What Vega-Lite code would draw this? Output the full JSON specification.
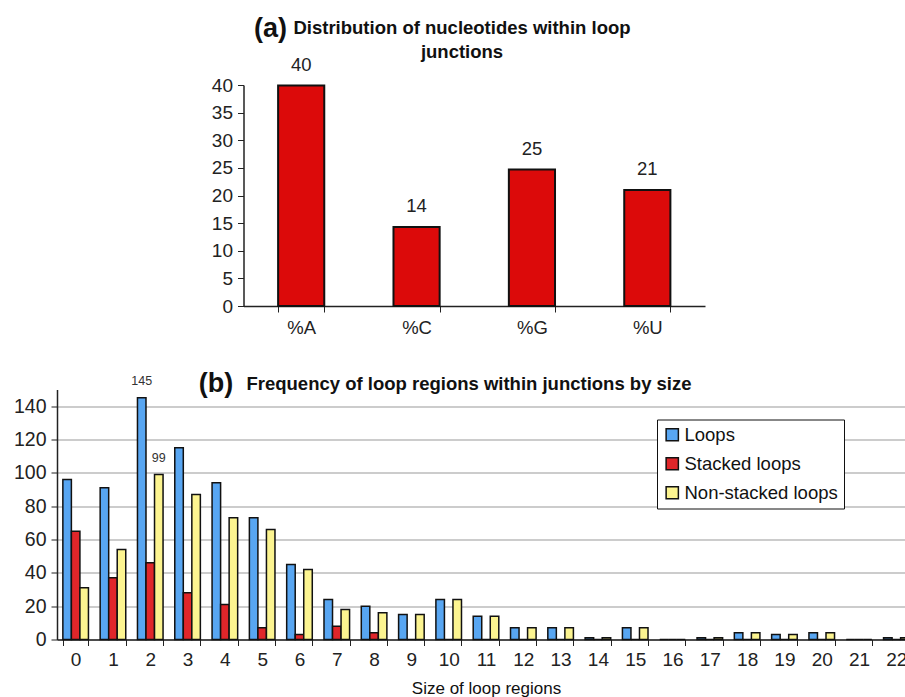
{
  "$schema": "https://vega.github.io/schema/vega-lite/v6.json",
  "background": "white",
  "padding": {"left": 13, "top": 14, "right": 0, "bottom": 0},
  "spacing": 31.5,
  "resolve": {"legend": {"color": "independent"}},
  "config": {
    "font": "Liberation Sans",
    "view": {"stroke": null},
    "axis": {"labelColor": "#222", "titleColor": "#111", "domainColor": "#222", "tickColor": "#222", "labelFont": "Liberation Sans", "titleFont": "Liberation Sans", "labelOverlap": false},
    "title": {"font": "Liberation Sans", "color": "#111"}
  },
  "vconcat": [
    {
      "width": 648,
      "height": 221,
      "title": {"text": ["Distribution of nucleotides within loop", "junctions"], "anchor": "start", "align": "center", "frame": "group", "dx": 405, "fontSize": 18.5, "fontWeight": "bold", "lineHeight": 24, "offset": -47},
      "data": {"values": [
        {"nucleotide": "%A", "percent": 39.9},
        {"nucleotide": "%C", "percent": 14.3},
        {"nucleotide": "%G", "percent": 24.7},
        {"nucleotide": "%U", "percent": 21.0}
      ]},
      "encoding": {
        "x": {"field": "nucleotide", "type": "nominal", "sort": null,
          "scale": {"range": [186.5, 648], "paddingInner": 0.6, "paddingOuter": 0.3},
          "axis": {"title": null, "labelAngle": 0, "tickBand": "extent", "tickSize": 6, "labelFontSize": 18.5, "labelPadding": 6, "grid": false, "domainWidth": 1.5}},
        "y": {"field": "percent", "type": "quantitative", "scale": {"domain": [0, 40], "nice": false, "zero": true},
          "axis": {"title": "(a)", "titleAngle": 0, "titleX": 26.5, "titleY": -57, "titleAlign": "center", "titleBaseline": "middle", "titleFontSize": 27, "titleFontWeight": "bold",
            "offset": -186.5, "values": [0, 5, 10, 15, 20, 25, 30, 35, 40], "tickCount": 9, "labelOverlap": false, "grid": false, "labelFontSize": 19, "tickSize": 6, "labelPadding": 5, "domainWidth": 1.5}}
      },
      "layer": [
        {
          "mark": {"type": "bar", "fill": "#dc0a0a", "stroke": "#111", "strokeWidth": 2}
        },
        {
          "mark": {"type": "text", "baseline": "alphabetic", "dy": -15, "fontSize": 18.5, "color": "#222"},
          "encoding": {
            "text": {"field": "percent", "type": "quantitative", "format": ".0f"}
          }
        }
      ]
    },
    {
      "width": 848,
      "height": 250,
      "title": {"text": "Frequency of loop regions within junctions by size", "anchor": "start", "align": "center", "frame": "group", "dx": 412, "fontSize": 18.5, "fontWeight": "bold", "offset": -24},
      "data": {"values": [
        {"size": 0, "series": "Loops", "count": 96}, {"size": 0, "series": "Stacked loops", "count": 65}, {"size": 0, "series": "Non-stacked loops", "count": 31},
        {"size": 1, "series": "Loops", "count": 91}, {"size": 1, "series": "Stacked loops", "count": 37}, {"size": 1, "series": "Non-stacked loops", "count": 54},
        {"size": 2, "series": "Loops", "count": 145}, {"size": 2, "series": "Stacked loops", "count": 46}, {"size": 2, "series": "Non-stacked loops", "count": 99},
        {"size": 3, "series": "Loops", "count": 115}, {"size": 3, "series": "Stacked loops", "count": 28}, {"size": 3, "series": "Non-stacked loops", "count": 87},
        {"size": 4, "series": "Loops", "count": 94}, {"size": 4, "series": "Stacked loops", "count": 21}, {"size": 4, "series": "Non-stacked loops", "count": 73},
        {"size": 5, "series": "Loops", "count": 73}, {"size": 5, "series": "Stacked loops", "count": 7}, {"size": 5, "series": "Non-stacked loops", "count": 66},
        {"size": 6, "series": "Loops", "count": 45}, {"size": 6, "series": "Stacked loops", "count": 3}, {"size": 6, "series": "Non-stacked loops", "count": 42},
        {"size": 7, "series": "Loops", "count": 24}, {"size": 7, "series": "Stacked loops", "count": 8}, {"size": 7, "series": "Non-stacked loops", "count": 18},
        {"size": 8, "series": "Loops", "count": 20}, {"size": 8, "series": "Stacked loops", "count": 4}, {"size": 8, "series": "Non-stacked loops", "count": 16},
        {"size": 9, "series": "Loops", "count": 15}, {"size": 9, "series": "Stacked loops", "count": 0}, {"size": 9, "series": "Non-stacked loops", "count": 15},
        {"size": 10, "series": "Loops", "count": 24}, {"size": 10, "series": "Stacked loops", "count": 0}, {"size": 10, "series": "Non-stacked loops", "count": 24},
        {"size": 11, "series": "Loops", "count": 14}, {"size": 11, "series": "Stacked loops", "count": 0}, {"size": 11, "series": "Non-stacked loops", "count": 14},
        {"size": 12, "series": "Loops", "count": 7}, {"size": 12, "series": "Stacked loops", "count": 0}, {"size": 12, "series": "Non-stacked loops", "count": 7},
        {"size": 13, "series": "Loops", "count": 7}, {"size": 13, "series": "Stacked loops", "count": 0}, {"size": 13, "series": "Non-stacked loops", "count": 7},
        {"size": 14, "series": "Loops", "count": 1}, {"size": 14, "series": "Stacked loops", "count": 0}, {"size": 14, "series": "Non-stacked loops", "count": 1},
        {"size": 15, "series": "Loops", "count": 7}, {"size": 15, "series": "Stacked loops", "count": 0}, {"size": 15, "series": "Non-stacked loops", "count": 7},
        {"size": 16, "series": "Loops", "count": 0}, {"size": 16, "series": "Stacked loops", "count": 0}, {"size": 16, "series": "Non-stacked loops", "count": 0},
        {"size": 17, "series": "Loops", "count": 1}, {"size": 17, "series": "Stacked loops", "count": 0}, {"size": 17, "series": "Non-stacked loops", "count": 1},
        {"size": 18, "series": "Loops", "count": 4}, {"size": 18, "series": "Stacked loops", "count": 0}, {"size": 18, "series": "Non-stacked loops", "count": 4},
        {"size": 19, "series": "Loops", "count": 3}, {"size": 19, "series": "Stacked loops", "count": 0}, {"size": 19, "series": "Non-stacked loops", "count": 3},
        {"size": 20, "series": "Loops", "count": 4}, {"size": 20, "series": "Stacked loops", "count": 0}, {"size": 20, "series": "Non-stacked loops", "count": 4},
        {"size": 21, "series": "Loops", "count": 0}, {"size": 21, "series": "Stacked loops", "count": 0}, {"size": 21, "series": "Non-stacked loops", "count": 0},
        {"size": 22, "series": "Loops", "count": 1}, {"size": 22, "series": "Stacked loops", "count": 0}, {"size": 22, "series": "Non-stacked loops", "count": 1}
      ]},
      "encoding": {
        "x": {"field": "size", "type": "ordinal",
          "scale": {"range": [0, 858], "paddingInner": 0.314, "paddingOuter": 0.157},
          "axis": {"title": "Size of loop regions", "titleFontSize": 17, "titleFontWeight": "normal", "titlePadding": 11, "labelAngle": 0, "tickBand": "extent", "tickSize": 6, "labelFontSize": 19, "labelPadding": 5, "labelOverlap": false, "grid": false, "domainWidth": 1.5}},
        "xOffset": {"field": "series", "type": "nominal", "sort": ["Loops", "Stacked loops", "Non-stacked loops"], "scale": {"paddingInner": 0, "paddingOuter": 0}},
        "y": {"field": "count", "type": "quantitative", "scale": {"domain": [0, 150], "nice": false},
          "axis": {"title": "(b)", "titleAngle": 0, "titleX": 158.5, "titleY": -6.3, "titleAlign": "center", "titleBaseline": "middle", "titleFontSize": 27, "titleFontWeight": "bold",
            "values": [0, 20, 40, 60, 80, 100, 120, 140], "tickCount": 8, "labelOverlap": false, "grid": true, "gridColor": "#999", "gridWidth": 1.2, "labelFontSize": 19.5, "tickSize": 6, "labelPadding": 5, "domainWidth": 1.5}}
      },
      "layer": [
        {
          "mark": {"type": "bar", "stroke": "#111", "strokeWidth": 1.5},
          "encoding": {
            "color": {"field": "series", "type": "nominal",
              "scale": {"domain": ["Loops", "Stacked loops", "Non-stacked loops"], "range": ["#58a6f2", "#e0262a", "#fcf490"]},
              "legend": {"title": null, "orient": "none", "legendX": 600, "legendY": 30, "fillColor": "white", "strokeColor": "#111", "padding": 6,
                "symbolType": "square", "symbolSize": 150, "symbolStrokeColor": "#111", "symbolStrokeWidth": 1.5,
                "labelFontSize": 18.5, "labelColor": "#111", "labelOffset": 3, "rowPadding": 10}}
          }
        },
        {
          "transform": [{"filter": "datum.size == 2 && datum.series != 'Stacked loops'"}],
          "mark": {"type": "text", "baseline": "alphabetic", "dy": -13, "fontSize": 12.5, "color": "#333"},
          "encoding": {
            "text": {"field": "count", "type": "quantitative"}
          }
        }
      ]
    }
  ]
}
